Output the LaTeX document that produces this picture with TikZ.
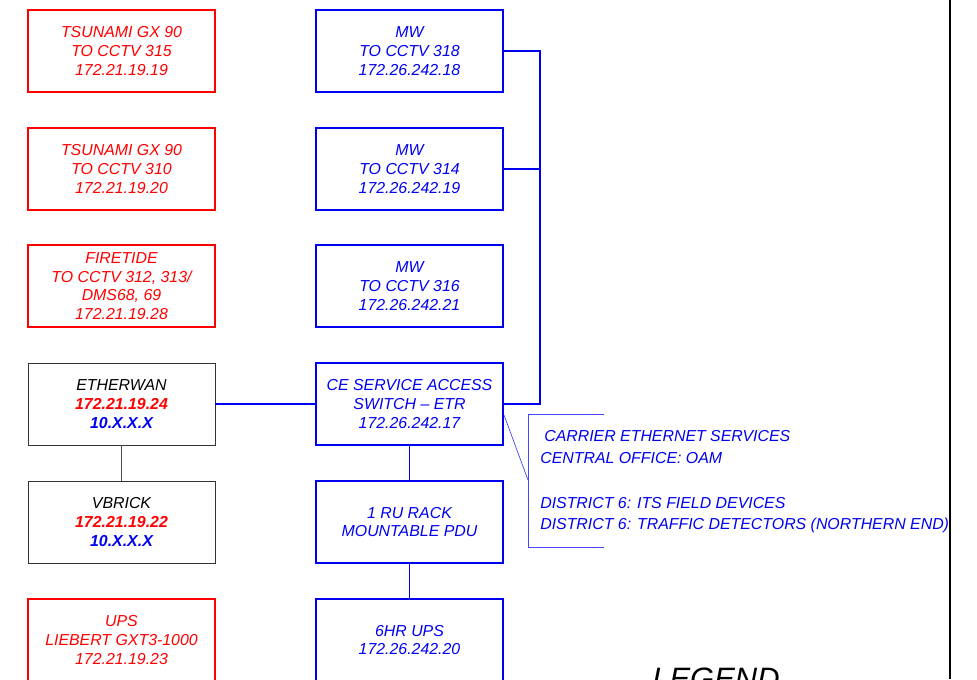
\documentclass[tikz,border=0pt]{standalone}
\usepackage{fontspec}
\setmainfont{Liberation Sans}
\usetikzlibrary{positioning, calc}

\definecolor{netred}{RGB}{255,0,0}
\definecolor{netblue}{RGB}{0,0,240}
\definecolor{brkblue}{RGB}{70,70,255}

\begin{document}
\begin{tikzpicture}[
    x=0.025cm, y=-0.025cm,
    every node/.style={font=\fontsize{11.3}{13.3}\selectfont\itshape},
    devbox/.style={draw, line width=1pt, minimum width=4.675cm, minimum height=2.05cm, align=center, inner sep=2pt},
    redbox/.style={devbox, draw=netred, text=netred},
    bluebox/.style={devbox, draw=netblue, text=netblue},
    blackbox/.style={devbox, draw=black!80, line width=0.6pt, text=black},
    link/.style={draw=netblue, line width=1.1pt},
    legend_txt/.style={anchor=west, text=netblue, inner sep=0pt}
]
\useasboundingbox (0,0) rectangle (977,679);
\clip (0,0) rectangle (977,679);

% ================= Nodes =================

% Left column: field devices
\node[redbox] (tsunami1) at (121.5, 51) {TSUNAMI GX 90\\TO CCTV 315\\172.21.19.19};
\node[redbox] (tsunami2) at (121.5, 169) {TSUNAMI GX 90\\TO CCTV 310\\172.21.19.20};
\node[redbox] (firetide) at (121.5, 286) {FIRETIDE\\TO CCTV 312, 313/\\DMS68, 69\\172.21.19.28};
\node[blackbox] (etherwan) at (121.5, 404) {ETHERWAN\\{\bfseries\color{netred}172.21.19.24}\\{\bfseries\color{netblue}10.X.X.X}};
\node[blackbox] (vbrick) at (121.5, 522) {VBRICK\\{\bfseries\color{netred}172.21.19.22}\\{\bfseries\color{netblue}10.X.X.X}};
\node[redbox] (ups_left) at (121.5, 640) {UPS\\LIEBERT GXT3-1000\\172.21.19.23};

% Middle column: carrier equipment
\node[bluebox] (mw318) at (409.5, 51) {MW\\TO CCTV 318\\172.26.242.18};
\node[bluebox] (mw314) at (409.5, 169) {MW\\TO CCTV 314\\172.26.242.19};
\node[bluebox] (mw316) at (409.5, 286) {MW\\TO CCTV 316\\172.26.242.21};
\node[bluebox] (ce_switch) at (409.5, 404) {CE SERVICE ACCESS\\SWITCH -- ETR\\172.26.242.17};
\node[bluebox] (pdu) at (409.5, 522) {1 RU RACK\\MOUNTABLE PDU};
\node[bluebox] (ups_mid) at (409.5, 640) {6HR UPS\\172.26.242.20};

% Legend texts
\node[legend_txt] (svc) at (544, 436) {CARRIER ETHERNET SERVICES};
\node[legend_txt] (office) at (540, 458) {CENTRAL OFFICE: OAM};
\node[legend_txt] (its) at (540, 503) {DISTRICT 6: ITS FIELD DEVICES};
\node[legend_txt] (detect) at (540, 525) {DISTRICT 6: TRAFFIC DETECTORS (NORTHERN END)};
\node[anchor=north, font=\fontsize{22}{26}\selectfont\itshape, inner sep=0pt] (legend) at (716, 668) {LEGEND};

% ================= Edges =================

% Bus on the right of the MW radios
\coordinate (bus_top) at (540, 51);
\draw[link] (mw318.east) -- (bus_top) -- (bus_top |- ce_switch.east) -- (ce_switch.east);
\draw[link] (mw314.east) -- (mw314.east -| bus_top);

% Switch chain
\draw[link] (etherwan.east) -- (ce_switch.west);
\draw[link] (ce_switch) -- (pdu);
\draw[link] (pdu) -- (ups_mid);
\draw[draw=black!70, line width=0.6pt] (etherwan) -- (vbrick);

% Bracket round the legend
\coordinate (brk_tl) at (528, 414);
\coordinate (brk_bl) at (528, 547);
\coordinate (brk_mid) at (528, 480);
\coordinate (brk_start) at (504, 415);
\draw[draw=brkblue, line width=0.5pt] ($(brk_tl)+(76,0)$) -- (brk_tl) -- (brk_bl) -- ++(76,0);
\draw[draw=brkblue, line width=0.5pt] (brk_start) -- (brk_mid);

% Sheet border
\draw[line width=2pt] (950, 0) -- (950, 679);

\end{tikzpicture}
\end{document}
